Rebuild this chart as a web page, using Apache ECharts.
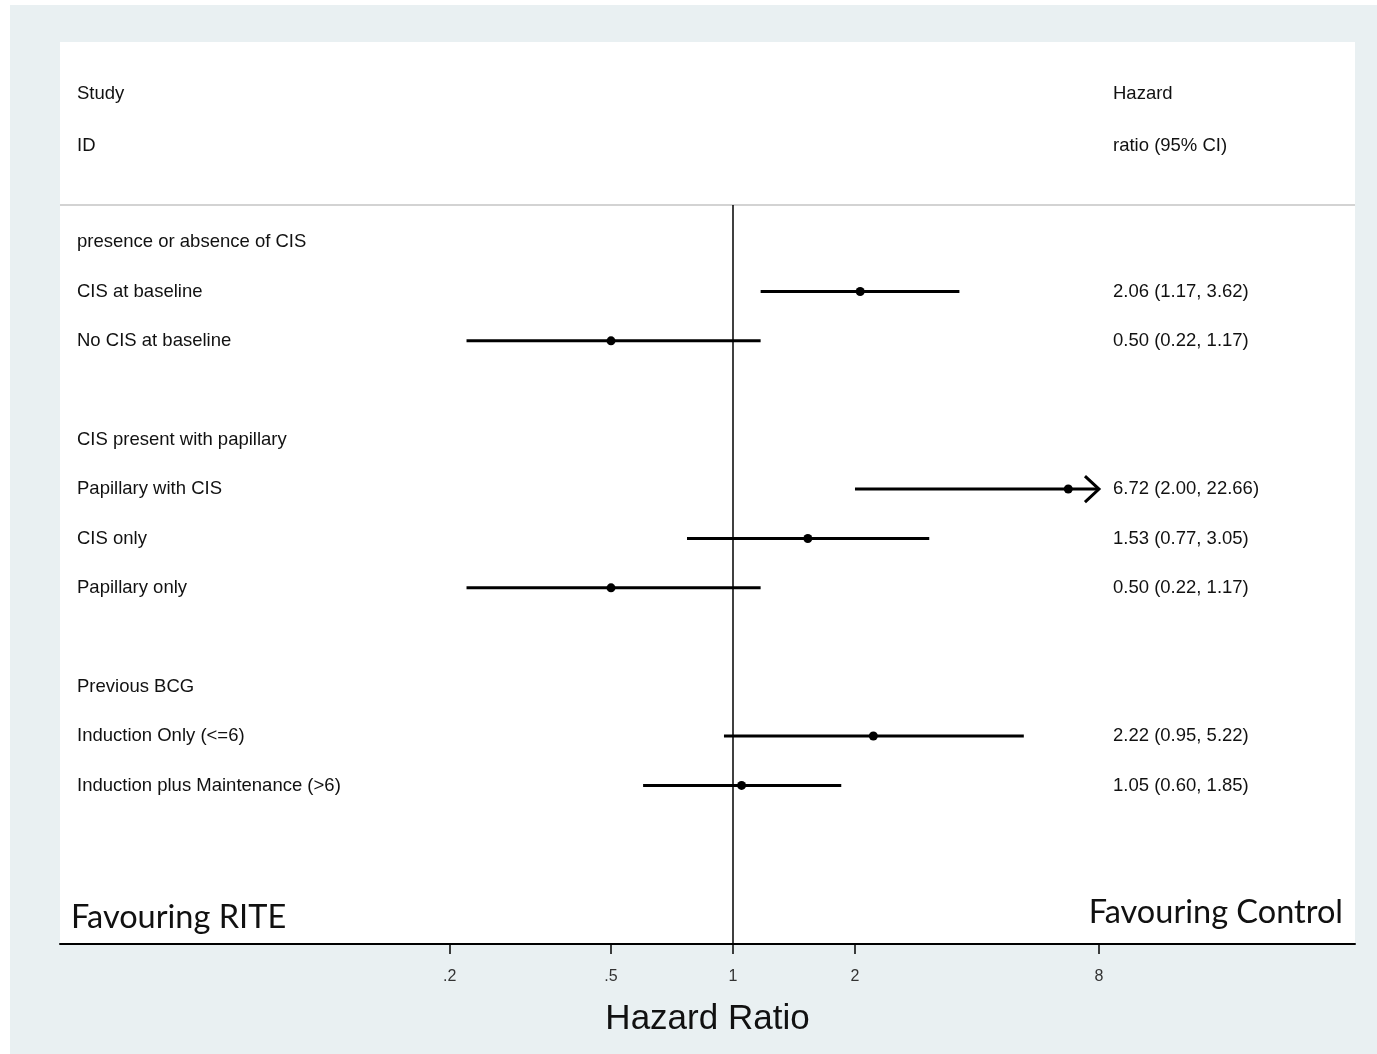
<!DOCTYPE html>
<html>
<head>
<meta charset="utf-8">
<title>Hazard ratio forest plot</title>
<script src="https://cdn.jsdelivr.net/npm/echarts@6/dist/echarts.min.js"></script>
<style>
  html, body { margin: 0; padding: 0; background: #fff; }
  #main { width: 1377px; height: 1054px; }
</style>
</head>
<body>
<div id="main"></div>
<script>
// rows are counted down from the first subgroup heading
var headerRows = [-3, -1.95];
var headerLeft = ['Study', 'ID'];
var headerRight = ['Hazard', 'ratio (95% CI)'];

var groupRows = [0, 4, 9];
var groupNames = ['presence or absence of CIS', 'CIS present with papillary', 'Previous BCG'];

var studyRows = [1, 2, 5, 6, 7, 10, 11];
var studyNames = ['CIS at baseline', 'No CIS at baseline', 'Papillary with CIS', 'CIS only',
                  'Papillary only', 'Induction Only (<=6)', 'Induction plus Maintenance (>6)'];
var hr    = [2.06, 0.50, 6.72, 1.53, 0.50, 2.22, 1.05];
var lower = [1.17, 0.22, 2.00, 0.77, 0.22, 0.95, 0.60];
var upper = [3.62, 1.17, 22.66, 3.05, 1.17, 5.22, 1.85];

var tickValues = [0.2, 0.5, 1, 2, 8];
var tickLabels = ['.2', '.5', '1', '2', '8'];

var clipAt = 8;           // CI drawn with an arrow beyond this
var xMin = 0.02184, xMax = 34.27;
var yMin = -4.05, yMax = 14.21;
var sepRow = -0.75;

function initChart() {
    var chart = echarts.init(document.getElementById('main'));

    var leftText = {}, rightText = {};
    headerRows.forEach(function (r, i) { leftText[r] = headerLeft[i]; rightText[r] = headerRight[i]; });
    groupRows.forEach(function (r, i) { leftText[r] = groupNames[i]; });
    studyRows.forEach(function (r, i) {
        leftText[r] = studyNames[i];
        rightText[r] = hr[i].toFixed(2) + ' (' + lower[i].toFixed(2) + ', ' + upper[i].toFixed(2) + ')';
    });
    var leftRows = headerRows.concat(groupRows, studyRows);
    var rightRows = headerRows.concat(studyRows);

    var textFont = { fontFamily: 'Liberation Sans', fontSize: 18.5, color: '#111', padding: [3, 0, 0, 0] };

    function renderCI(params, api) {
        var row = api.value(2);
        var hi = api.value(1);
        var a = api.coord([api.value(0), row]);
        var b = api.coord([Math.min(hi, clipAt), row]);
        var kids = [{
            type: 'line',
            shape: { x1: a[0], y1: a[1], x2: b[0], y2: b[1] },
            style: { stroke: '#000', lineWidth: 3 }
        }];
        if (hi > clipAt) {
            kids.push({
                type: 'polyline',
                shape: { points: [[b[0] - 14, b[1] - 13], [b[0], b[1]], [b[0] - 14, b[1] + 13]] },
                style: { stroke: '#000', lineWidth: 3, fill: null }
            });
        }
        return { type: 'group', children: kids };
    }

    var option = {
        backgroundColor: '#e9f0f2',
        animation: false,
        grid: {
            left: 60, right: 22, top: 42, bottom: 110,
            show: true, backgroundColor: '#fff', borderWidth: 0
        },
        xAxis: {
            type: 'log',
            logBase: 10,
            min: xMin,
            max: xMax,
            name: 'Hazard Ratio',
            nameLocation: 'middle',
            nameGap: 58,
            nameTextStyle: { fontFamily: 'Liberation Sans', fontSize: 35, color: '#111' },
            axisLine: { onZero: false, lineStyle: { color: '#000', width: 2 } },
            axisTick: { customValues: tickValues, length: 10, lineStyle: { color: '#000', width: 1.5 } },
            axisLabel: {
                customValues: tickValues,
                margin: 25,
                fontFamily: 'Liberation Sans',
                fontSize: 16,
                color: '#333',
                formatter: function (v) {
                    var i = tickValues.indexOf(v);
                    return i >= 0 ? tickLabels[i] : '';
                }
            },
            splitLine: { show: false },
            minorTick: { show: false }
        },
        yAxis: [{
            type: 'value',
            inverse: true,
            min: yMin,
            max: yMax,
            position: 'left',
            axisLine: { show: false },
            axisTick: { show: false },
            splitLine: { show: false },
            axisLabel: Object.assign({
                customValues: leftRows,
                align: 'left',
                margin: -17,
                formatter: function (v) { return leftText[v] || ''; }
            }, textFont)
        }, {
            type: 'value',
            inverse: true,
            min: yMin,
            max: yMax,
            position: 'right',
            axisLine: { show: false },
            axisTick: { show: false },
            splitLine: { show: false },
            axisLabel: Object.assign({
                customValues: rightRows,
                align: 'left',
                margin: -242,
                formatter: function (v) { return rightText[v] || ''; }
            }, textFont)
        }],
        series: [{
            name: 'CI',
            type: 'custom',
            renderItem: renderCI,
            clip: false,
            encode: { x: [0, 1], y: 2 },
            data: studyRows.map(function (r, i) { return [lower[i], upper[i], r]; }),
            z: 2
        }, {
            name: 'HR',
            type: 'scatter',
            symbol: 'circle',
            symbolSize: 9,
            itemStyle: { color: '#000', opacity: 1 },
            data: studyRows.map(function (r, i) { return [hr[i], r]; }),
            z: 3,
            markLine: {
                silent: true,
                symbol: 'none',
                label: { show: false },
                data: [
                    [{ coord: [xMin, sepRow], lineStyle: { color: '#c4c4c4', width: 1.5, type: 'solid' } },
                     { coord: [xMax, sepRow] }],
                    [{ coord: [1, sepRow], lineStyle: { color: '#000', width: 1.5, type: 'solid' } },
                     { coord: [1, yMax] }]
                ]
            }
        }],
        graphic: [
            { type: 'rect', shape: { x: 0, y: 0, width: 10, height: 1054 }, style: { fill: '#fff' } },
            { type: 'rect', shape: { x: 0, y: 0, width: 1377, height: 5 }, style: { fill: '#fff' } },
            {
                type: 'text',
                style: { x: 71, y: 918, text: 'Favouring RITE', fontFamily: 'Lato', fontSize: 32.5,
                         fill: '#111', align: 'left', verticalAlign: 'middle' }
            },
            {
                type: 'text',
                style: { x: 1343, y: 913, text: 'Favouring Control', fontFamily: 'Lato', fontSize: 32.5,
                         fill: '#111', align: 'right', verticalAlign: 'middle' }
            }
        ]
    };

    chart.setOption(option);
}

initChart();
</script>
</body>
</html>
